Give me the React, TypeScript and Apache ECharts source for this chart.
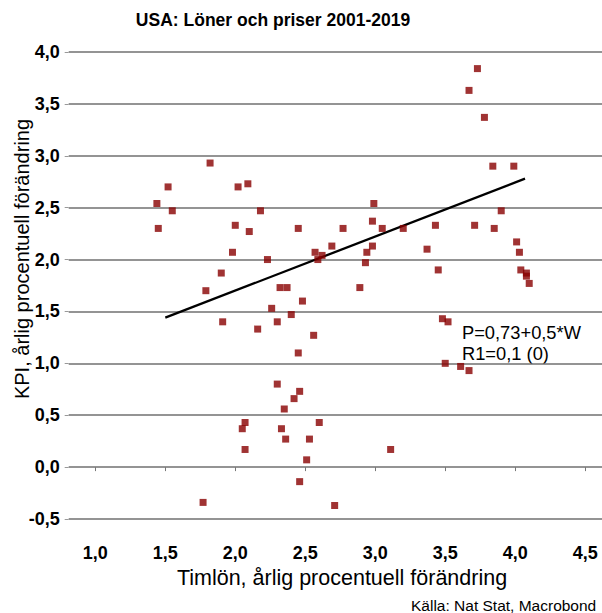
import React, { useEffect, useRef } from 'react';
import * as echarts from 'echarts';

const FONT = '"Liberation Sans", Arial, Helvetica, sans-serif';

// Timlön (x) och KPI (y), årlig procentuell förändring
const wage = [
  1.82, 1.52, 2.02, 2.09, 1.44, 1.55, 2.18, 1.45, 2.00, 2.10,
  2.45, 1.98, 2.57, 2.69, 2.62, 2.59, 2.23, 1.90, 1.79, 2.32,
  2.37, 2.48, 2.26, 2.40, 1.91, 2.30, 2.16, 2.56, 2.45, 2.30,
  2.46, 2.42, 2.35, 2.07, 2.05, 2.33, 2.60, 2.36, 2.53, 2.07,
  2.51, 2.46, 1.77, 2.71, 3.73, 3.67, 3.78, 3.84, 3.99, 2.99,
  2.98, 3.05, 3.20, 3.43, 3.71, 3.85, 3.90, 2.98, 2.94, 2.93,
  2.89, 3.37, 3.45, 4.01, 4.03, 4.04, 4.08, 4.08, 4.10, 3.48,
  3.52, 3.50, 3.61, 3.67, 2.77, 3.11,
];
const cpi = [
  2.93, 2.70, 2.70, 2.73, 2.54, 2.47, 2.47, 2.30, 2.33, 2.27,
  2.30, 2.07, 2.07, 2.13, 2.04, 2.00, 2.00, 1.87, 1.70, 1.73,
  1.73, 1.60, 1.53, 1.47, 1.40, 1.40, 1.33, 1.27, 1.10, 0.80,
  0.73, 0.66, 0.56, 0.43, 0.37, 0.37, 0.43, 0.27, 0.27, 0.17,
  0.07, -0.14, -0.34, -0.37, 3.84, 3.63, 3.37, 2.90, 2.90, 2.54,
  2.37, 2.30, 2.30, 2.33, 2.33, 2.30, 2.47, 2.13, 2.07, 1.97,
  1.73, 2.10, 1.90, 2.17, 2.07, 1.90, 1.87, 1.84, 1.77, 1.43,
  1.40, 1.00, 0.97, 0.93, 2.30, 0.17,
];

// Regressionslinje P = 0,73 + 0,5*W
const regX = [1.5, 4.07];
const regY = [1.44, 2.78];

const xTicks = [1.0, 1.5, 2.0, 2.5, 3.0, 3.5, 4.0, 4.5];

const titleText = 'USA: Löner och priser 2001-2019';
const xName = 'Timlön, årlig procentuell förändring';
const yName = 'KPI, årlig procentuell förändring';
const eqLine1 = 'P=0,73+0,5*W';
const eqLine2 = 'R1=0,1 (0)';
const sourceText = 'Källa: Nat Stat, Macrobond';

const fmt = (v: number) => v.toFixed(1).replace('.', ',');

export default function App() {
  const ref = useRef<HTMLDivElement>(null);
  useEffect(() => {
    const chart = echarts.init(ref.current!, null, { renderer: 'svg' });
    const points = wage.map((w, i) => [w, cpi[i]]);
    const reg = regX.map((x, i) => [x, regY[i]]);
    chart.setOption({
      animation: false,
      backgroundColor: '#ffffff',
      textStyle: { fontFamily: FONT },
      grid: { left: 68.7, top: 52, width: 533.4, height: 467 },
      xAxis: {
        type: 'value',
        min: 0.81,
        max: 4.62,
        offset: 12,
        axisLine: { show: false },
        splitLine: { show: false },
        axisTick: {
          show: true,
          customValues: xTicks,
          length: 4,
          lineStyle: { color: '#777', width: 1 },
        },
        axisLabel: {
          customValues: xTicks,
          formatter: fmt,
          margin: 13,
          color: '#000',
          fontWeight: 'bold',
          fontSize: 18,
          fontFamily: FONT,
        },
      },
      yAxis: {
        type: 'value',
        min: -0.5,
        max: 4.0,
        interval: 0.5,
        axisLine: { show: false },
        axisTick: { show: true, length: 4, lineStyle: { color: '#999', width: 1 } },
        splitLine: { show: true, lineStyle: { color: '#707070', width: 1.5 } },
        axisLabel: {
          formatter: fmt,
          margin: 9,
          color: '#000',
          fontWeight: 'bold',
          fontSize: 18,
          fontFamily: FONT,
        },
      },
      series: [
        {
          type: 'line',
          data: reg,
          symbol: 'none',
          lineStyle: { color: '#000', width: 2.3 },
          z: 2,
        },
        {
          type: 'scatter',
          data: points,
          symbol: 'rect',
          symbolSize: 7,
          itemStyle: { color: '#880000' },
          z: 3,
        },
      ],
      graphic: [
        {
          type: 'text',
          x: 273,
          y: 20,
          style: {
            text: titleText,
            font: `bold 17.5px ${FONT}`,
            fill: '#000',
            align: 'center',
            verticalAlign: 'middle',
          },
        },
        {
          type: 'text',
          x: 22,
          y: 259,
          rotation: Math.PI / 2,
          style: {
            text: yName,
            font: `20px ${FONT}`,
            fill: '#000',
            align: 'center',
            verticalAlign: 'middle',
          },
        },
        {
          type: 'text',
          x: 342,
          y: 578,
          style: {
            text: xName,
            font: `21.5px ${FONT}`,
            fill: '#000',
            align: 'center',
            verticalAlign: 'middle',
          },
        },
        {
          type: 'text',
          x: 462,
          y: 332,
          style: {
            text: eqLine1,
            font: `18.3px ${FONT}`,
            fill: '#000',
            align: 'left',
            verticalAlign: 'middle',
          },
        },
        {
          type: 'text',
          x: 462,
          y: 353,
          style: {
            text: eqLine2,
            font: `18.3px ${FONT}`,
            fill: '#000',
            align: 'left',
            verticalAlign: 'middle',
          },
        },
        {
          type: 'text',
          x: 411,
          y: 605,
          style: {
            text: sourceText,
            font: `15.5px ${FONT}`,
            fill: '#000',
            align: 'left',
            verticalAlign: 'middle',
          },
        },
      ],
    });
    return () => chart.dispose();
  }, []);
  return (
    <div
      ref={ref}
      style={{ position: 'absolute', left: 0, top: 0, width: 602, height: 613 }}
    />
  );
}
